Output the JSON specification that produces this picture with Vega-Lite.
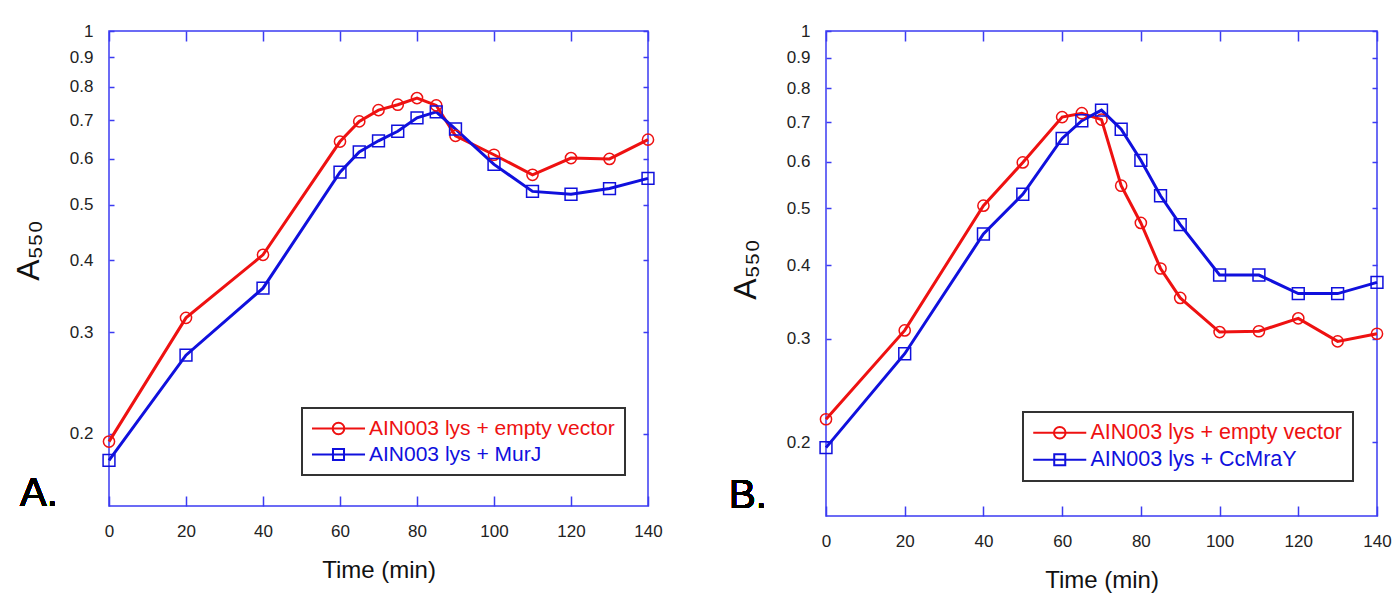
{
  "$schema": "https://vega.github.io/schema/vega-lite/v6.json",
  "background": "white",
  "padding": {"left": 11, "top": 21, "right": 0, "bottom": 5},
  "spacing": 65,
  "datasets": {
    "A": [
      {"series": "AIN003 lys + empty vector", "time": 0, "a550": 0.194},
      {"series": "AIN003 lys + empty vector", "time": 20, "a550": 0.318},
      {"series": "AIN003 lys + empty vector", "time": 40, "a550": 0.409},
      {"series": "AIN003 lys + empty vector", "time": 60, "a550": 0.643},
      {"series": "AIN003 lys + empty vector", "time": 65, "a550": 0.697},
      {"series": "AIN003 lys + empty vector", "time": 70, "a550": 0.729},
      {"series": "AIN003 lys + empty vector", "time": 75, "a550": 0.745},
      {"series": "AIN003 lys + empty vector", "time": 80, "a550": 0.765},
      {"series": "AIN003 lys + empty vector", "time": 85, "a550": 0.743},
      {"series": "AIN003 lys + empty vector", "time": 90, "a550": 0.658},
      {"series": "AIN003 lys + empty vector", "time": 100, "a550": 0.610},
      {"series": "AIN003 lys + empty vector", "time": 110, "a550": 0.563},
      {"series": "AIN003 lys + empty vector", "time": 120, "a550": 0.602},
      {"series": "AIN003 lys + empty vector", "time": 130, "a550": 0.600},
      {"series": "AIN003 lys + empty vector", "time": 140, "a550": 0.648},
      {"series": "AIN003 lys + MurJ", "time": 0, "a550": 0.180},
      {"series": "AIN003 lys + MurJ", "time": 20, "a550": 0.274},
      {"series": "AIN003 lys + MurJ", "time": 40, "a550": 0.358},
      {"series": "AIN003 lys + MurJ", "time": 60, "a550": 0.569},
      {"series": "AIN003 lys + MurJ", "time": 65, "a550": 0.617},
      {"series": "AIN003 lys + MurJ", "time": 70, "a550": 0.645},
      {"series": "AIN003 lys + MurJ", "time": 75, "a550": 0.670},
      {"series": "AIN003 lys + MurJ", "time": 80, "a550": 0.707},
      {"series": "AIN003 lys + MurJ", "time": 85, "a550": 0.724},
      {"series": "AIN003 lys + MurJ", "time": 90, "a550": 0.676},
      {"series": "AIN003 lys + MurJ", "time": 100, "a550": 0.587},
      {"series": "AIN003 lys + MurJ", "time": 110, "a550": 0.527},
      {"series": "AIN003 lys + MurJ", "time": 120, "a550": 0.521},
      {"series": "AIN003 lys + MurJ", "time": 130, "a550": 0.533},
      {"series": "AIN003 lys + MurJ", "time": 140, "a550": 0.555}
    ],
    "B": [
      {"series": "AIN003 lys + empty vector", "time": 0, "a550": 0.219},
      {"series": "AIN003 lys + empty vector", "time": 20, "a550": 0.310},
      {"series": "AIN003 lys + empty vector", "time": 40, "a550": 0.505},
      {"series": "AIN003 lys + empty vector", "time": 50, "a550": 0.598},
      {"series": "AIN003 lys + empty vector", "time": 60, "a550": 0.714},
      {"series": "AIN003 lys + empty vector", "time": 65, "a550": 0.725},
      {"series": "AIN003 lys + empty vector", "time": 70, "a550": 0.707},
      {"series": "AIN003 lys + empty vector", "time": 75, "a550": 0.546},
      {"series": "AIN003 lys + empty vector", "time": 80, "a550": 0.472},
      {"series": "AIN003 lys + empty vector", "time": 85, "a550": 0.395},
      {"series": "AIN003 lys + empty vector", "time": 90, "a550": 0.352},
      {"series": "AIN003 lys + empty vector", "time": 100, "a550": 0.308},
      {"series": "AIN003 lys + empty vector", "time": 110, "a550": 0.309},
      {"series": "AIN003 lys + empty vector", "time": 120, "a550": 0.325},
      {"series": "AIN003 lys + empty vector", "time": 130, "a550": 0.297},
      {"series": "AIN003 lys + empty vector", "time": 140, "a550": 0.306},
      {"series": "AIN003 lys + CcMraY", "time": 0, "a550": 0.196},
      {"series": "AIN003 lys + CcMraY", "time": 20, "a550": 0.283},
      {"series": "AIN003 lys + CcMraY", "time": 40, "a550": 0.452},
      {"series": "AIN003 lys + CcMraY", "time": 50, "a550": 0.528},
      {"series": "AIN003 lys + CcMraY", "time": 60, "a550": 0.657},
      {"series": "AIN003 lys + CcMraY", "time": 65, "a550": 0.704},
      {"series": "AIN003 lys + CcMraY", "time": 70, "a550": 0.734},
      {"series": "AIN003 lys + CcMraY", "time": 75, "a550": 0.681},
      {"series": "AIN003 lys + CcMraY", "time": 80, "a550": 0.603},
      {"series": "AIN003 lys + CcMraY", "time": 85, "a550": 0.525},
      {"series": "AIN003 lys + CcMraY", "time": 90, "a550": 0.469},
      {"series": "AIN003 lys + CcMraY", "time": 100, "a550": 0.385},
      {"series": "AIN003 lys + CcMraY", "time": 110, "a550": 0.385},
      {"series": "AIN003 lys + CcMraY", "time": 120, "a550": 0.358},
      {"series": "AIN003 lys + CcMraY", "time": 130, "a550": 0.358},
      {"series": "AIN003 lys + CcMraY", "time": 140, "a550": 0.374}
    ]
  },
  "config": {
    "font": "Liberation Sans",
    "view": {"stroke": "#3b3bf2", "strokeWidth": 1.5},
    "axis": {
      "grid": false,
      "domain": false,
      "labelFlush": false,
      "tickColor": "#3b3bf2",
      "tickWidth": 1.5,
      "labelFont": "Liberation Sans",
      "labelFontSize": 17,
      "labelColor": "#222222",
      "titleFont": "Liberation Sans",
      "titleColor": "#111111",
      "titleFontWeight": "normal"
    },
    "legend": {
      "orient": "none",
      "title": null,
      "padding": 10,
      "strokeColor": "#333333",
      "strokeWidth": 2,
      "fillColor": "white",
      "labelFont": "Liberation Sans",
      "labelFontSize": 21,
      "labelLimit": 600,
      "labelOffset": 20,
      "symbolOffset": 16,
      "rowPadding": 4,
      "symbolSize": 144,
      "symbolStrokeWidth": 2
    }
  },
  "resolve": {
    "scale": {"x": "independent", "y": "independent", "color": "independent"},
    "legend": {"color": "independent"}
  },
  "hconcat": [
    {
      "width": 539,
      "height": 475,
      "data": {"name": "A"},
      "layer": [
        {
          "mark": {"type": "line", "strokeWidth": 3},
          "encoding": {
            "x": {"field": "time", "type": "quantitative", "scale": {"domain": [0, 140], "nice": false},
              "axis": {"orient": "bottom", "values": [0, 20, 40, 60, 80, 100, 120, 140], "tickSize": -10, "labelPadding": 27, "title": "Time (min)", "titleFontSize": 24, "titlePadding": 19}},
            "y": {"field": "a550", "type": "quantitative", "scale": {"type": "log", "domain": [0.15, 1], "nice": false},
              "axis": {"orient": "left", "values": [0.2, 0.3, 0.4, 0.5, 0.6, 0.7, 0.8, 0.9, 1], "format": "~g", "tickSize": -5, "labelPadding": 21, "title": "A₅₅₀", "titleFontSize": 32, "titlePadding": 24, "titleY": 219}},
            "color": {"field": "series", "type": "nominal",
              "scale": {"domain": ["AIN003 lys + empty vector", "AIN003 lys + MurJ"], "range": ["#ee1111", "#1010dd"]},
              "legend": {
                "legendX": 193, "legendY": 377,
                "encode": {
                  "symbols": {"update": {
                    "shape": {"signal": "datum.value === 'AIN003 lys + empty vector' ? 'M-4.42,0H4.42M0.97,0A0.97,0.97,0,1,1,-0.97,0A0.97,0.97,0,1,1,0.97,0' : 'M-4.42,0H4.42M-0.92,-0.92H0.92V0.92H-0.92Z'"},
                    "fill": {"value": "transparent"},
                    "stroke": {"signal": "datum.value === 'AIN003 lys + empty vector' ? '#ee1111' : '#1010dd'"},
                    "strokeWidth": {"value": 2},
                    "size": {"value": 144},
                    "opacity": {"value": 1}
                  }},
                  "labels": {"update": {"fill": {"signal": "datum.value === 'AIN003 lys + empty vector' ? '#ee1111' : '#1010dd'"}}}
                }
              }}
          }
        },
        {
          "transform": [{"filter": "datum.series === 'AIN003 lys + empty vector'"}],
          "mark": {"type": "point", "shape": "circle", "filled": false, "strokeWidth": 1.5, "size": 125, "opacity": 1, "color": "#ee1111"},
          "encoding": {
            "x": {"field": "time", "type": "quantitative",
              "axis": {"orient": "top", "values": [0, 20, 40, 60, 80, 100, 120, 140], "tickSize": -10, "labels": false, "title": null}},
            "y": {"field": "a550", "type": "quantitative",
              "axis": {"orient": "right", "values": [0.2, 0.3, 0.4, 0.5, 0.6, 0.7, 0.8, 0.9, 1], "tickSize": -5, "labels": false, "title": null}}
          }
        },
        {
          "transform": [{"filter": "datum.series === 'AIN003 lys + MurJ'"}],
          "mark": {"type": "point", "shape": "square", "filled": false, "strokeWidth": 1.5, "size": 140, "opacity": 1, "color": "#1010dd"},
          "encoding": {
            "x": {"field": "time", "type": "quantitative", "axis": null},
            "y": {"field": "a550", "type": "quantitative", "axis": null}
          }
        },
        {
          "mark": {"type": "text", "text": "A.", "fontSize": 40, "align": "left", "baseline": "alphabetic", "dx": -89, "font": "Liberation Sans", "color": "black"},
          "encoding": {
            "x": {"datum": 0, "type": "quantitative", "axis": null},
            "y": {"datum": 0.15, "type": "quantitative", "axis": null}
          }
        }
      ],
      "resolve": {"axis": {"x": "independent", "y": "independent"}}
    },
    {
      "width": 551,
      "height": 485,
      "data": {"name": "B"},
      "layer": [
        {
          "mark": {"type": "line", "strokeWidth": 3},
          "encoding": {
            "x": {"field": "time", "type": "quantitative", "scale": {"domain": [0, 140], "nice": false},
              "axis": {"orient": "bottom", "values": [0, 20, 40, 60, 80, 100, 120, 140], "tickSize": -10, "labelPadding": 27, "title": "Time (min)", "titleFontSize": 24, "titlePadding": 19}},
            "y": {"field": "a550", "type": "quantitative", "scale": {"type": "log", "domain": [0.15, 1], "nice": false},
              "axis": {"orient": "left", "values": [0.2, 0.3, 0.4, 0.5, 0.6, 0.7, 0.8, 0.9, 1], "format": "~g", "tickSize": -5, "labelPadding": 21, "title": "A₅₅₀", "titleFontSize": 32, "titlePadding": 24, "titleY": 238}},
            "color": {"field": "series", "type": "nominal",
              "scale": {"domain": ["AIN003 lys + empty vector", "AIN003 lys + CcMraY"], "range": ["#ee1111", "#1010dd"]},
              "legend": {
                "legendX": 197, "legendY": 381,
                "labelFontSize": 21.5,
                "encode": {
                  "symbols": {"update": {
                    "shape": {"signal": "datum.value === 'AIN003 lys + empty vector' ? 'M-4.42,0H4.42M0.97,0A0.97,0.97,0,1,1,-0.97,0A0.97,0.97,0,1,1,0.97,0' : 'M-4.42,0H4.42M-0.92,-0.92H0.92V0.92H-0.92Z'"},
                    "fill": {"value": "transparent"},
                    "stroke": {"signal": "datum.value === 'AIN003 lys + empty vector' ? '#ee1111' : '#1010dd'"},
                    "strokeWidth": {"value": 2},
                    "size": {"value": 144},
                    "opacity": {"value": 1}
                  }},
                  "labels": {"update": {"fill": {"signal": "datum.value === 'AIN003 lys + empty vector' ? '#ee1111' : '#1010dd'"}}}
                }
              }}
          }
        },
        {
          "transform": [{"filter": "datum.series === 'AIN003 lys + empty vector'"}],
          "mark": {"type": "point", "shape": "circle", "filled": false, "strokeWidth": 1.5, "size": 125, "opacity": 1, "color": "#ee1111"},
          "encoding": {
            "x": {"field": "time", "type": "quantitative",
              "axis": {"orient": "top", "values": [0, 20, 40, 60, 80, 100, 120, 140], "tickSize": -10, "labels": false, "title": null}},
            "y": {"field": "a550", "type": "quantitative",
              "axis": {"orient": "right", "values": [0.2, 0.3, 0.4, 0.5, 0.6, 0.7, 0.8, 0.9, 1], "tickSize": -5, "labels": false, "title": null}}
          }
        },
        {
          "transform": [{"filter": "datum.series === 'AIN003 lys + CcMraY'"}],
          "mark": {"type": "point", "shape": "square", "filled": false, "strokeWidth": 1.5, "size": 140, "opacity": 1, "color": "#1010dd"},
          "encoding": {
            "x": {"field": "time", "type": "quantitative", "axis": null},
            "y": {"field": "a550", "type": "quantitative", "axis": null}
          }
        },
        {
          "mark": {"type": "text", "text": "B.", "fontSize": 40, "align": "left", "baseline": "alphabetic", "dx": -97, "dy": -8, "font": "Liberation Sans", "color": "black"},
          "encoding": {
            "x": {"datum": 0, "type": "quantitative", "axis": null},
            "y": {"datum": 0.15, "type": "quantitative", "axis": null}
          }
        }
      ],
      "resolve": {"axis": {"x": "independent", "y": "independent"}}
    }
  ]
}
